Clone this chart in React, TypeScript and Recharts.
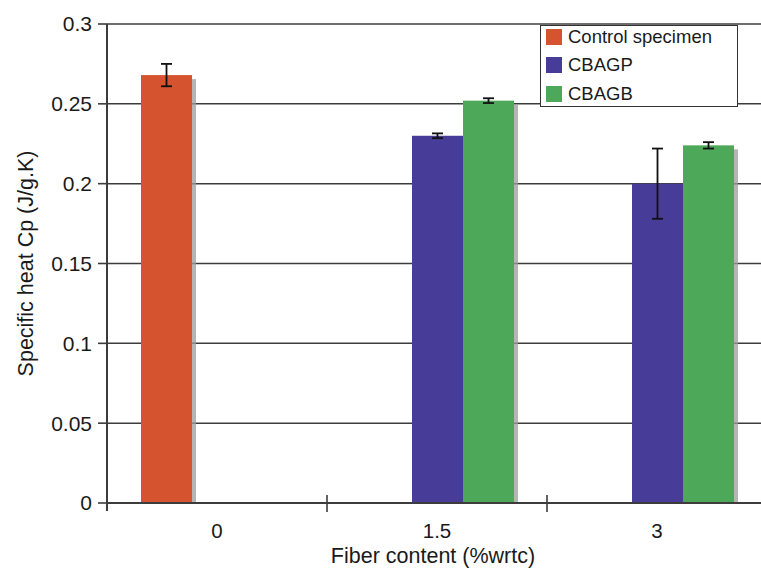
import React from 'react';
import { BarChart, Bar, XAxis, YAxis, CartesianGrid, Legend, ErrorBar } from 'recharts';

const categories = ['0', '1.5', '3'];
const controlValues = [0.268, null, null];
const controlErrors = [0.007, null, null];
const cbagpValues = [null, 0.23, 0.2];
const cbagpErrors = [null, 0.0015, 0.022];
const cbagbValues = [null, 0.252, 0.224];
const cbagbErrors = [null, 0.0015, 0.002];
const yTicks = [0, 0.05, 0.1, 0.15, 0.2, 0.25, 0.3];
const seriesNames = ['Control specimen', 'CBAGP', 'CBAGB'];
const seriesKeys = ['control', 'cbagp', 'cbagb'];
const seriesColors = ['#D5532F', '#473C98', '#4DA859'];

const FONT = '"Liberation Sans", Arial, Helvetica, sans-serif';
const TEXT = '#1a1a1a';
const LINE = '#3c3c3c';

const data = categories.map((c, i) => ({
  category: c,
  control: controlValues[i],
  controlErr: controlErrors[i],
  cbagp: cbagpValues[i],
  cbagpErr: cbagpErrors[i],
  cbagb: cbagbValues[i],
  cbagbErr: cbagbErrors[i],
}));

const ShadowBar = (props: any) => {
  const { x, y, width, height, fill } = props;
  if (height == null || !(height > 0)) return null;
  return (
    <g>
      <rect x={x + 4} y={y + 4} width={width} height={Math.max(0, height - 4)} fill="#9c9c9c" opacity={0.75} />
      <rect x={x} y={y} width={width} height={height} fill={fill} />
    </g>
  );
};

const XTick = (props: any) => {
  const { x, y, payload, index } = props;
  const half = payload && typeof payload.offset === 'number' ? payload.offset : 0;
  return (
    <g>
      <text x={x} y={y + 35} textAnchor="middle" fontSize={20.5} fill={TEXT} fontFamily={FONT}>
        {payload.value}
      </text>
      {half > 0 && (
        <line x1={x + half} x2={x + half} y1={y - 8} y2={y + 9} stroke={LINE} strokeWidth={1.6} />
      )}
      {half > 0 && index === 0 && (
        <line x1={x - half} x2={x - half} y1={y} y2={y + 8} stroke={LINE} strokeWidth={2} />
      )}
    </g>
  );
};

const LegendBox = () => (
  <div
    style={{
      position: 'relative',
      width: 198,
      height: 82,
      boxSizing: 'border-box',
      border: '1.5px solid #333',
      background: '#fff',
      fontFamily: FONT,
      fontSize: 18.5,
      color: TEXT,
    }}
  >
    {seriesNames.map((n, i) => (
      <div
        key={n}
        style={{ position: 'absolute', left: 5, top: 3 + 28.3 * i, height: 16, display: 'flex', alignItems: 'center', whiteSpace: 'nowrap' }}
      >
        <span style={{ display: 'inline-block', width: 16, height: 16, background: seriesColors[i], marginRight: 6 }} />
        <span style={{ lineHeight: '16px' }}>{n}</span>
      </div>
    ))}
  </div>
);

export default function App() {
  return (
    <div style={{ position: 'absolute', left: 0, top: 0, width: 761, height: 568, overflow: 'hidden', background: '#fff' }}>
      <BarChart
        width={768}
        height={568}
        data={data}
        margin={{ top: 24, right: 1, bottom: 0, left: 0 }}
        barCategoryGap={34}
        barGap={0}
      >
        <CartesianGrid vertical={false} stroke={LINE} strokeWidth={1.5} />
        <XAxis
          dataKey="category"
          height={65}
          tickSize={0}
          tickMargin={0}
          tickLine={false}
          axisLine={{ stroke: LINE, strokeWidth: 2 }}
          tick={<XTick />}
          interval={0}
          label={(p: any) => {
            const vb = p.viewBox;
            return (
              <text
                x={vb.x + vb.width / 2 - 4}
                y={vb.y + 60}
                textAnchor="middle"
                fontSize={21.5}
                fill={TEXT}
                fontFamily={FONT}
              >
                Fiber content (%wrtc)
              </text>
            );
          }}
        />
        <YAxis
          width={107}
          domain={[0, 0.3]}
          ticks={yTicks}
          interval={0}
          tickSize={9}
          tickMargin={6}
          tickLine={{ stroke: LINE, strokeWidth: 1.6 }}
          axisLine={{ stroke: LINE, strokeWidth: 2 }}
          tick={{ fontSize: 21, fill: TEXT, fontFamily: FONT }}
          tickFormatter={(v: number) => String(v)}
          label={(p: any) => {
            const vb = p.viewBox;
            const cx = 26;
            const cy = vb.y + vb.height / 2;
            return (
              <text
                x={cx}
                y={cy}
                transform={`rotate(-90, ${cx}, ${cy})`}
                textAnchor="middle"
                dominantBaseline="central"
                fontSize={21.5}
                fill={TEXT}
                fontFamily={FONT}
              >
                Specific heat Cp (J/g.K)
              </text>
            );
          }}
        />
        <Legend
          layout="horizontal"
          verticalAlign="middle"
          align="center"
          content={() => <LegendBox />}
          wrapperStyle={{ position: 'absolute', top: 25, left: 540, width: 198, height: 82 }}
        />
        {seriesKeys.map((k, i) => (
          <Bar
            key={k}
            dataKey={k}
            name={seriesNames[i]}
            fill={seriesColors[i]}
            isAnimationActive={false}
            shape={<ShadowBar />}
          >
            <ErrorBar dataKey={k + 'Err'} width={5.5} stroke="#111" strokeWidth={1.8} direction="y" />
          </Bar>
        ))}
      </BarChart>
    </div>
  );
}
